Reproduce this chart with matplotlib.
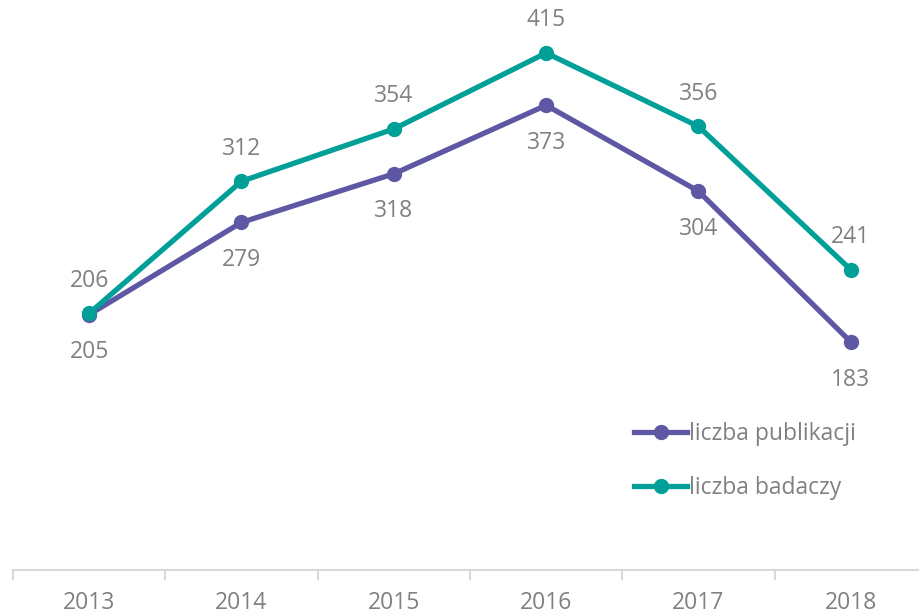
import matplotlib.pyplot as plt
from matplotlib.lines import Line2D

years = ["2013", "2014", "2015", "2016", "2017", "2018"]
publikacje = [205, 279, 318, 373, 304, 183]
badacze = [206, 312, 354, 415, 356, 241]

purple = "#5E58A4"
teal = "#00A099"
gray = "#808080"

plt.rcParams["font.family"] = ["Open Sans", "DejaVu Sans"]

fig = plt.figure(figsize=(9.2, 6.16), dpi=100)
# plot area runs slightly past the right edge, like the original
ax = fig.add_axes([13 / 920, 46 / 616, 914 / 920, 570 / 616])

x = list(range(len(years)))
ax.plot(x, publikacje, color=purple, lw=3.8, marker="o", ms=10, solid_capstyle="round")
ax.plot(x, badacze, color=teal, lw=3.8, marker="o", ms=10, solid_capstyle="round")

for i in x:
    ax.annotate(str(publikacje[i]), (i, publikacje[i]), xytext=(0, -27),
                textcoords="offset points", ha="center", va="center",
                fontsize=16.5, color=gray)
    ax.annotate(str(badacze[i]), (i, badacze[i]), xytext=(0, 23.5),
                textcoords="offset points", ha="center", va="center",
                fontsize=16.5, color=gray)

ax.set_xlim(-0.5, len(years) - 0.5)
ax.set_ylim(0, 457.5)

for s in ["top", "right", "left"]:
    ax.spines[s].set_visible(False)
ax.spines["bottom"].set_color("#D9D9D9")
ax.spines["bottom"].set_linewidth(1.5)
ax.set_yticks([])

ax.set_xticks([i - 0.5 for i in range(len(years) + 1)], minor=False)
ax.set_xticklabels([])
ax.tick_params(axis="x", which="major", length=7, width=1.5, color="#D9D9D9")
ax.set_xticks(x, minor=True)
ax.set_xticklabels(years, minor=True)
ax.tick_params(axis="x", which="minor", length=0, pad=15, labelsize=16.5, labelcolor=gray)

handles = [
    Line2D([], [], color=purple, lw=3.8, marker="o", ms=10),
    Line2D([], [], color=teal, lw=3.8, marker="o", ms=10),
]
fig.legend(handles, ["liczba publikacji", "liczba badaczy"], loc="upper left",
           bbox_to_anchor=(623 / 920, 1 - 411 / 616), frameon=False,
           fontsize=16.5, labelcolor=gray, handlelength=2.3, handletextpad=0.1,
           labelspacing=1.3, borderpad=0)

fig.savefig("out.png", dpi=100)
